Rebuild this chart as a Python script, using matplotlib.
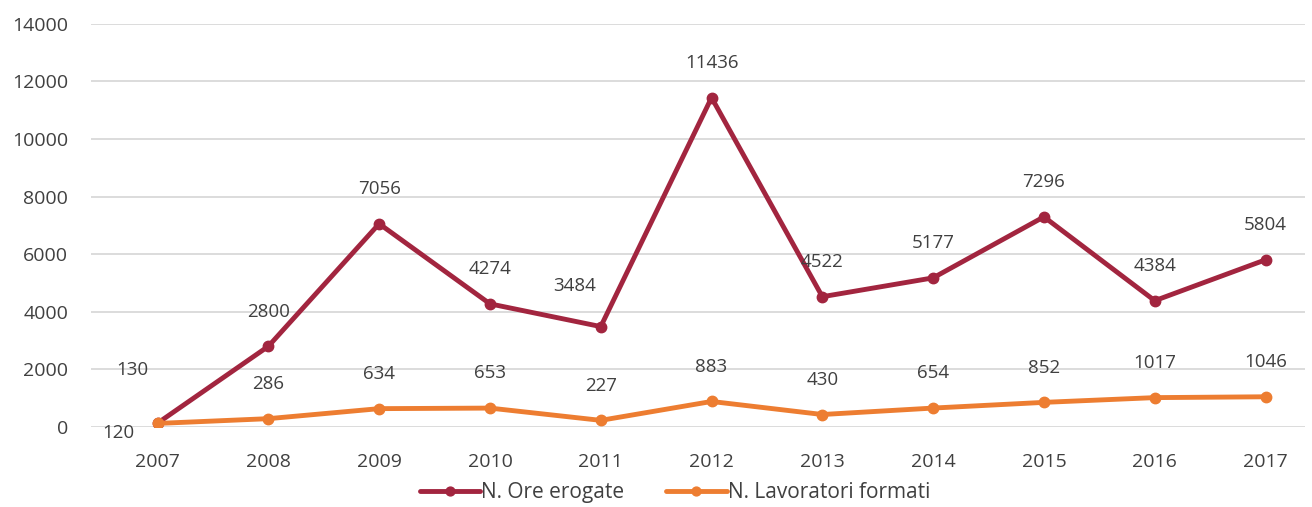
import numpy as np
import matplotlib.pyplot as plt

plt.rcParams['font.family'] = ['Open Sans', 'DejaVu Sans']

# Data
years = ['2007', '2008', '2009', '2010', '2011', '2012',
         '2013', '2014', '2015', '2016', '2017']
ore_erogate = [130, 2800, 7056, 4274, 3484, 11436, 4522, 5177, 7296, 4384, 5804]
lavoratori = [120, 286, 634, 653, 227, 883, 430, 654, 852, 1017, 1046]

red = '#A2253F'
orange = '#ED7D31'
text_col = '#404040'

fig = plt.figure(figsize=(13.12, 5.07), dpi=100)
ax = fig.add_axes([0.069, 0.158, 0.926, 0.795])

x = np.arange(len(years))
ax.plot(x, ore_erogate, color=red, lw=3.5, marker='o', ms=7.5,
        label='N. Ore erogate', zorder=3, solid_capstyle='round')
ax.plot(x, lavoratori, color=orange, lw=3.5, marker='o', ms=7.5,
        label='N. Lavoratori formati', zorder=3, solid_capstyle='round')

# label offsets in points (default: centred above)
red_off = [(0, 25)] * len(years)
red_off[0] = (-18, 38)
red_off[4] = (-19, 29)
org_off = [(0, 25)] * len(years)
org_off[0] = (-28, -7)

for i in range(len(years)):
    ax.annotate(str(ore_erogate[i]), (x[i], ore_erogate[i]),
                xytext=red_off[i], textcoords='offset points',
                ha='center', va='center', fontsize=13.5, color=text_col)
    ax.annotate(str(lavoratori[i]), (x[i], lavoratori[i]),
                xytext=org_off[i], textcoords='offset points',
                ha='center', va='center', fontsize=13.5, color=text_col)

ax.set_ylim(0, 14000)
ax.set_yticks(np.arange(0, 14001, 2000))
ax.set_xlim(-0.605, 10.36)
ax.set_xticks(x)
ax.set_xticklabels(years)
ax.tick_params(length=0, labelsize=14, labelcolor=text_col)
ax.tick_params(axis='y', pad=16)
ax.tick_params(axis='x', pad=19)
ax.grid(axis='y', color='#D9D9D9', lw=1.3)
ax.set_axisbelow(True)
for s in ax.spines.values():
    s.set_visible(False)

ax.legend(loc='center', bbox_to_anchor=(0.481, -0.163), ncol=2, frameon=False,
          fontsize=15, labelcolor=text_col, handlelength=2.9, markerscale=0.85,
          handletextpad=0.05, columnspacing=2.0, borderpad=0)

fig.savefig('out.png', dpi=100)
